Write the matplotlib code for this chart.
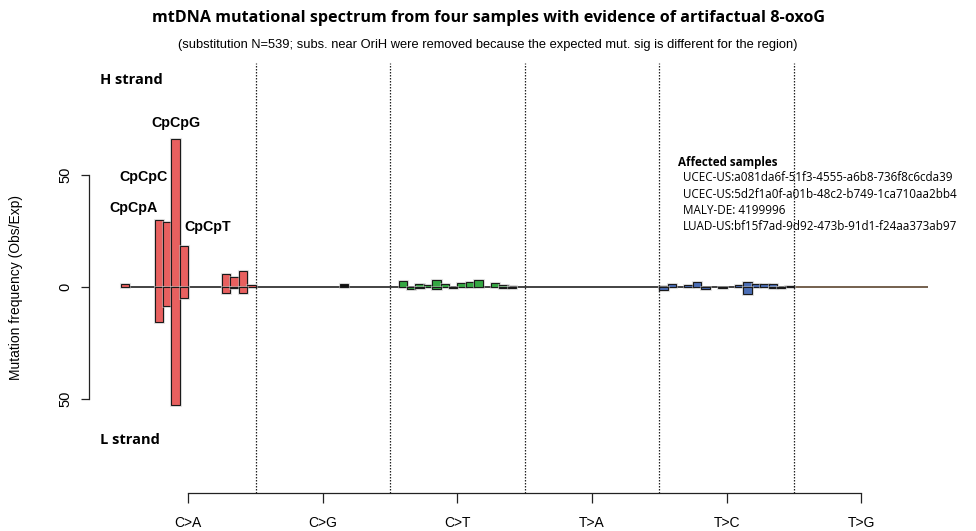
import matplotlib
matplotlib.use('Agg')
import matplotlib.pyplot as plt
import matplotlib.patheffects as pe
import numpy as np

SUB_TYPES = ['C>A', 'C>G', 'C>T', 'T>A', 'T>C', 'T>G']
SUB_COLORS = ['#E8605F', '#111111', '#35A843', '#333333', '#4A6DB5', '#5C4630']
LINE_COLORS = ['#222222', '#222222', '#222222', '#222222', '#222222', '#5C4630']

# H strand (upward) and L strand (downward) Obs/Exp per trinucleotide context,
# 16 contexts per substitution type
H_CA = [1.1, 0, 0, 0, 29.9, 28.9, 65.9, 18.4, 0, 0, 0, 0, 5.6, 4.6, 7.0, 0.7]
L_CA = [0, 0, 0, 0, 15.8, 8.6, 52.7, 4.8, 0, 0, 0, 0, 2.5, 0.3, 2.5, 0]
H_CG = [0, 0, 0, 0, 0, 0, 0, 0, 0, 0, 1.1, 0, 0, 0, 0, 0]
L_CG = [0] * 16
H_CT = [0, 2.8, 0, 1.2, 1.0, 3.1, 1.2, 0, 1.6, 2.1, 3.1, 0, 1.6, 0.9, 0.6, 0]
L_CT = [0, 0, 0.9, 0.3, 0, 0.9, 0, 0.6, 0, 0, 0, 0, 0, 0.6, 0.3, 0]
H_TA = [0] * 16
L_TA = [0] * 16
H_TC = [0.5, 1.1, 0, 0.7, 2.0, 0, 0, 0, 0, 0.7, 2.1, 1.5, 1.5, 1.5, 0, 0.3]
L_TC = [1.3, 0, 0, 0, 0, 0.8, 0, 0.5, 0, 0, 3.3, 0, 0, 0.6, 0.4, 0]
H_TG = [0] * 16
L_TG = [0] * 16

LABELS = ['CpCpA', 'CpCpC', 'CpCpG', 'CpCpT']

SAMPLES = ['UCEC-US:a081da6f-51f3-4555-a6b8-736f8c6cda39',
           'UCEC-US:5d2f1a0f-a01b-48c2-b749-1ca710aa2bb4',
           'MALY-DE: 4199996',
           'LUAD-US:bf15f7ad-9d92-473b-91d1-f24aa373ab97']

W, H = 976, 531


def px_axes(fig, left, top, right, bottom):
    return fig.add_axes([left / W, 1 - bottom / H, (right - left) / W, (bottom - top) / H])


def draw_bars(ax, x, values, colors):
    mask = values != 0
    shadow = [pe.withStroke(linewidth=2.2, foreground='#c8c8c8', alpha=0.5)]
    ax.bar(x[mask], values[mask], width=1, color=colors[mask], edgecolor='#1a1a1a',
           linewidth=0.8, path_effects=shadow, zorder=3)


if __name__ == '__main__':
    up = np.array(H_CA + H_CG + H_CT + H_TA + H_TC + H_TG)
    down = np.array(L_CA + L_CG + L_CT + L_TA + L_TC + L_TG)
    colors = np.repeat(SUB_COLORS, 16)
    x = np.arange(96) + 0.5

    fig = plt.figure(figsize=(W / 100, H / 100), dpi=100)
    unit = 8.41
    ax_left = 121 - 3.84 * unit
    ax_right = 121 + 99.84 * unit
    ax = px_axes(fig, ax_left, 63, ax_right, 493)
    ax.set_xlim(-3.84, 99.84)
    ax.set_ylim(-92, 100)

    draw_bars(ax, x, up, colors)
    draw_bars(ax, x, -down, colors)

    for k in range(6):
        ax.hlines(0, 16 * k, 16 * (k + 1), color=LINE_COLORS[k], linewidth=1.2, zorder=2)
    for k in range(1, 6):
        ax.axvline(16 * k, color='#222222', linestyle=(0, (1.2, 1.2)), linewidth=0.9, zorder=4)

    ax.spines['top'].set_visible(False)
    ax.spines['right'].set_visible(False)
    ax.spines['left'].set_bounds(-50, 50)
    ax.spines['bottom'].set_bounds(8, 88)
    for s in ['left', 'bottom']:
        ax.spines[s].set_linewidth(0.9)
        ax.spines[s].set_color('#222222')

    ax.set_xticks([8 + 16 * k for k in range(6)])
    ax.set_xticklabels(SUB_TYPES, fontsize=10, family='Liberation Sans')
    ax.tick_params(axis='x', length=7.5, width=0.9, pad=9, color='#222222')
    ax.set_yticks([-50, 0, 50])
    ax.set_yticklabels(['50', '0', '50'], fontsize=10.5, family='Liberation Sans',
                       rotation=90, va='center')
    ax.tick_params(axis='y', length=6, width=0.9, pad=6, color='#222222')

    fig.text(16 / W, 1 - 287 / H, 'Mutation frequency (Obs/Exp)', rotation=90,
             ha='center', va='center', fontsize=10, family='Liberation Sans')

    # context labels over the C>A peaks
    lab = dict(va='center', fontsize=10.3, fontweight='bold', family='Liberation Sans')
    ax.text(6.5, 73.3, LABELS[2], ha='center', **lab)
    ax.text(5.6, 49.2, LABELS[1], ha='right', **lab)
    ax.text(4.3, 35.1, LABELS[0], ha='right', **lab)
    ax.text(7.5, 26.9, LABELS[3], ha='left', **lab)

    fig.text(100 / W, 1 - 80 / H, 'H strand', ha='left', va='center', fontsize=10.5,
             fontweight='bold', family='Open Sans')
    fig.text(100 / W, 1 - 440 / H, 'L strand', ha='left', va='center', fontsize=10.5,
             fontweight='bold', family='Open Sans')

    fig.text(678 / W, 1 - 162 / H, 'Affected samples', ha='left', va='center',
             fontsize=8.4, fontweight='bold', family='Open Sans', zorder=1)
    for i, s in enumerate(SAMPLES):
        fig.text(683 / W, 1 - (178 + 16 * i) / H, s, ha='left', va='center',
                 fontsize=8.4, family='Open Sans', zorder=1)

    fig.text(0.5, 1 - 18 / H,
             'mtDNA mutational spectrum from four samples with evidence of artifactual 8-oxoG',
             ha='center', va='center', fontsize=11.6, fontweight='bold', family='Open Sans')
    fig.text(0.5, 1 - 45 / H,
             '(substitution N=539; subs. near OriH were removed because the expected mut. sig is different for the region)',
             ha='center', va='center', fontsize=9.3, family='Liberation Sans')

    fig.savefig('out.png', dpi=100)
